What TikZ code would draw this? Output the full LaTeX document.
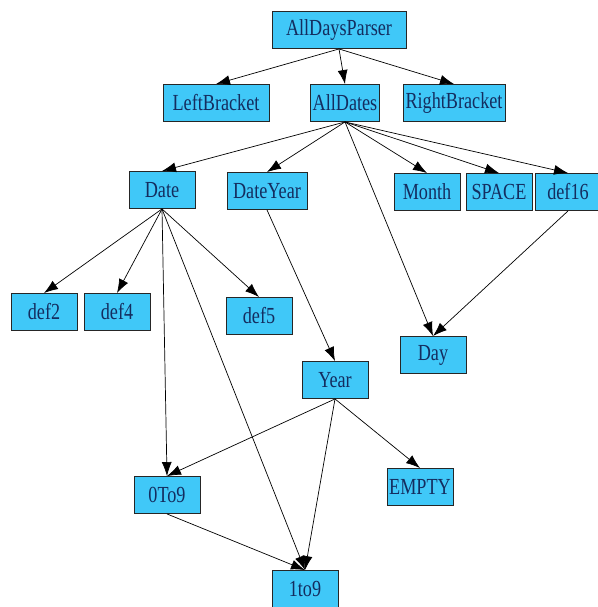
\documentclass[tikz,border=0pt]{standalone}
\usepackage{fontspec}
\usepackage{xcolor}
\usetikzlibrary{arrows.meta}
\newfontfamily\boxfont[FakeStretch=0.79]{Liberation Serif}
\definecolor{boxfill}{RGB}{64,200,248}
\definecolor{boxtext}{RGB}{20,45,95}

\begin{document}
\begin{tikzpicture}[x=1pt,y=-1pt,
  rule/.style={draw=black!85,fill=boxfill,text=boxtext,line width=0.9pt,
    minimum width=66pt,minimum height=37pt,inner xsep=2pt,inner ysep=0pt,
    font=\boxfont\fontsize{23}{25}\selectfont},
  dep/.style={draw=black,line width=0.7pt,-{Latex[length=14pt,width=10pt]}}]
  \useasboundingbox (0,0) rectangle (597,607);
  % top level
  \node[rule,minimum width=134pt] (parser) at (339,30) {AllDaysParser};
  \node[rule,minimum width=106pt] (lbr) at (216,103) {LeftBracket};
  \node[rule] (alld) at (345,103) {AllDates};
  \node[rule,minimum width=102pt] (rbr) at (454,103) {RightBracket};
  % second row
  \node[rule] (date) at (162,190) {Date};
  \node[rule,minimum width=80pt] (dyear) at (267,191) {DateYear};
  \node[rule] (month) at (427,192) {Month};
  \node[rule] (space) at (499,192) {SPACE};
  \node[rule] (d16) at (568,192) {def16};
  % lower rows
  \node[rule] (d2) at (44,312) {def2};
  \node[rule] (d4) at (117,312) {def4};
  \node[rule] (d5) at (259,316) {def5};
  \node[rule] (day) at (433,355) {Day};
  \node[rule] (year) at (335,380) {Year};
  \node[rule] (zto9) at (167,495) {0To9};
  \node[rule] (empty) at (420,487) {EMPTY};
  \node[rule] (oto9) at (305,589) {1to9};
  % edges
  \foreach \c in {lbr,alld,rbr} \draw[dep] (parser.south) -- (\c.north);
  \foreach \c in {date,dyear,day,month,space,d16} \draw[dep] (alld.south) -- (\c.north);
  \foreach \c in {d2,d4,d5,zto9,oto9} \draw[dep] (date.south) -- (\c.north);
  \draw[dep] (dyear.south) -- (year.north);
  \draw[dep] (d16.south) -- (day.north);
  \foreach \c in {zto9,oto9,empty} \draw[dep] (year.south) -- (\c.north);
  \draw[dep] (zto9.south) -- (oto9.north);
\end{tikzpicture}
\end{document}
